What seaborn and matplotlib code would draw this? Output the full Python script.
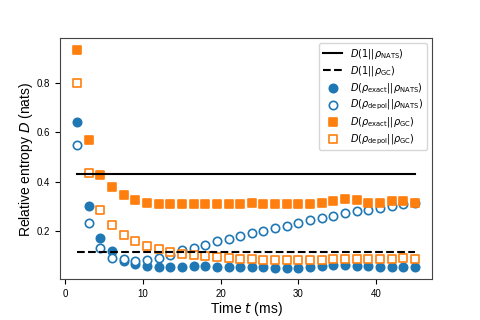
import numpy as np
import pandas as pd
import matplotlib
matplotlib.use('Agg')
import matplotlib.pyplot as plt
import seaborn as sns

plt.rcParams['font.family'] = ['Liberation Sans', 'DejaVu Sans']

#Time points (ms)
time_ms = [1.5 * k for k in range(1, 31)]

#Reference levels
d_one_nats = 0.43
d_one_gc = 0.115

#Relative entropies
exact_nats = [0.642, 0.302, 0.175, 0.121, 0.080, 0.070, 0.061, 0.054, 0.054, 0.057,
              0.058, 0.058, 0.057, 0.054, 0.054, 0.057, 0.054, 0.050, 0.050, 0.050,
              0.054, 0.059, 0.063, 0.063, 0.061, 0.059, 0.057, 0.057, 0.054, 0.054]
depol_nats = [0.549, 0.234, 0.131, 0.094, 0.090, 0.080, 0.086, 0.094, 0.104, 0.124,
              0.133, 0.144, 0.160, 0.168, 0.180, 0.193, 0.203, 0.214, 0.223, 0.235,
              0.244, 0.255, 0.263, 0.274, 0.281, 0.287, 0.295, 0.302, 0.309, 0.315]
exact_gc = [0.932, 0.570, 0.429, 0.379, 0.348, 0.328, 0.315, 0.311, 0.309, 0.309,
            0.311, 0.311, 0.310, 0.309, 0.311, 0.314, 0.311, 0.309, 0.309, 0.309,
            0.311, 0.315, 0.322, 0.329, 0.325, 0.315, 0.315, 0.321, 0.322, 0.314]
depol_gc = [0.798, 0.435, 0.287, 0.224, 0.184, 0.160, 0.140, 0.127, 0.116, 0.109,
            0.104, 0.100, 0.096, 0.093, 0.090, 0.088, 0.086, 0.085, 0.085, 0.085,
            0.086, 0.086, 0.088, 0.089, 0.088, 0.088, 0.088, 0.090, 0.093, 0.090]

df = pd.DataFrame({'t': time_ms, 'exact_nats': exact_nats, 'depol_nats': depol_nats,
                   'exact_gc': exact_gc, 'depol_gc': depol_gc})
df['one_nats'] = d_one_nats
df['one_gc'] = d_one_gc

blue = '#1f77b4'
orange = '#ff7f0e'

fig = plt.figure(figsize=(4.8, 3.2), dpi=100)
ax = fig.add_axes([0.125, 0.127, 0.775, 0.753])

#Reference lines
sns.lineplot(data=df, x='t', y='one_nats', color='black', lw=1.5,
             label=r'$D(1||\rho_{\mathrm{NATS}})$', ax=ax)
sns.lineplot(data=df, x='t', y='one_gc', color='black', lw=1.5, linestyle='--',
             label=r'$D(1||\rho_{\mathrm{GC}})$', ax=ax)

#Markers
sns.scatterplot(data=df, x='t', y='exact_nats', marker='o', s=36, color=blue,
                edgecolor=blue, linewidth=1.2,
                label=r'$D(\rho_{\mathrm{exact}}||\rho_{\mathrm{NATS}})$', ax=ax)
sns.scatterplot(data=df, x='t', y='depol_nats', marker='o', s=36, facecolors='white',
                edgecolor=blue, linewidth=1.2,
                label=r'$D(\rho_{\mathrm{depol}}||\rho_{\mathrm{NATS}})$', ax=ax)
sns.scatterplot(data=df, x='t', y='exact_gc', marker='s', s=36, color=orange,
                edgecolor=orange, linewidth=1.2,
                label=r'$D(\rho_{\mathrm{exact}}||\rho_{\mathrm{GC}})$', ax=ax)
sns.scatterplot(data=df, x='t', y='depol_gc', marker='s', s=36, facecolors='white',
                edgecolor=orange, linewidth=1.2,
                label=r'$D(\rho_{\mathrm{depol}}||\rho_{\mathrm{GC}})$', ax=ax)

ax.set_xlim(-0.675, 47.175)
ax.set_ylim(0.006, 0.979)
ax.set_xticks([0, 10, 20, 30, 40])
ax.set_yticks([0.2, 0.4, 0.6, 0.8])
ax.tick_params(labelsize=7)
for s in ax.spines.values():
    s.set_color('#444444')
ax.set_xlabel(r'Time $t$ (ms)', fontsize=10, labelpad=1)
ax.set_ylabel(r'Relative entropy $D$ (nats)', fontsize=10, labelpad=1)
ax.legend(loc='upper right', fontsize=7, labelspacing=0.3)

plt.savefig('out.png', dpi=100)
